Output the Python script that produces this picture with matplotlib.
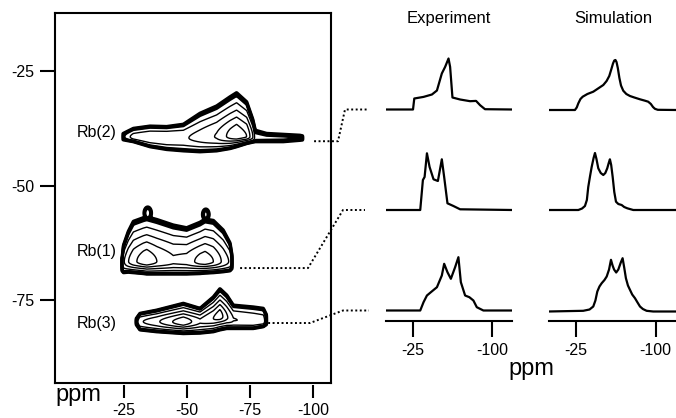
import numpy as np
import matplotlib
matplotlib.use("Agg")
import matplotlib.pyplot as plt
from matplotlib.lines import Line2D
from matplotlib.transforms import IdentityTransform

plt.rcParams['font.family'] = ['Liberation Sans', 'DejaVu Sans']
plt.rcParams['axes.unicode_minus'] = False

# ---- 2D MQMAS sites: F2 anchors, relative amplitude, ridge F1, outline top / bottom F1 (ppm)
rb2_f2 = np.array([-24.0, -24.7, -28.7, -35.3, -41.9, -48.5, -55.1, -61.7, -67.0, -69.6, -73.6, -76.0, -77.0, -81.5, -88.1, -94.7, -98.0])
rb2_amp = np.array([0.0, 0.06, 0.22, 0.3, 0.32, 0.3, 0.42, 0.58, 0.88, 1.0, 0.8, 0.35, 0.1, 0.09, 0.085, 0.075, 0.0])
rb2_ridge = np.array([-39.3, -39.3, -39.4, -39.5, -39.6, -39.6, -39.5, -39.3, -39.2, -39.2, -39.3, -39.4, -39.5, -39.6, -39.6, -39.6, -39.7])
rb2_top = np.array([-39.0, -38.6, -37.5, -37.0, -37.1, -36.6, -34.2, -32.6, -30.6, -29.7, -31.7, -35.5, -37.9, -38.6, -38.8, -39.0, -39.4])
rb2_bot = np.array([-39.6, -40.0, -40.4, -41.5, -42.1, -42.4, -42.6, -42.4, -41.9, -41.5, -40.8, -40.5, -40.4, -40.4, -40.4, -40.1, -39.9])

rb1_f2 = np.array([-24.0, -24.8, -26.7, -28.7, -32.7, -34.0, -38.0, -44.5, -49.8, -55.1, -57.1, -60.4, -64.3, -67.0, -68.0])
rb1_amp = np.array([0.0, 0.3, 0.55, 0.72, 0.95, 1.0, 0.8, 0.6, 0.65, 0.9, 0.95, 0.8, 0.5, 0.3, 0.0])
rb1_ridge = np.full(15, -66.6)
rb1_top = np.array([-67.0, -63.0, -60.0, -57.8, -57.0, -56.8, -57.4, -58.6, -59.2, -58.0, -57.3, -57.6, -59.7, -62.5, -66.0])
rb1_bot = np.array([-68.5, -69.0, -68.9, -69.0, -69.2, -69.3, -69.3, -69.3, -69.3, -69.2, -69.1, -69.0, -68.8, -68.6, -68.0])

# small islands on top of Rb(1): F2, F1, amplitude
isl_f2 = [-34.4, -57.4]
isl_f1 = [-56.0, -56.3]
isl_amp = [0.12, 0.1]

rb3_f2 = np.array([-29.5, -31.3, -37.9, -48.5, -55.1, -60.4, -63.0, -65.7, -68.3, -76.2, -80.2, -81.8])
rb3_amp = np.array([0.0, 0.3, 0.5, 1.0, 0.6, 0.8, 0.95, 0.6, 0.35, 0.3, 0.25, 0.0])
rb3_ridge = np.array([-79.7, -79.7, -79.7, -79.8, -79.6, -79.0, -78.5, -78.8, -79.3, -79.6, -79.6, -79.6])
rb3_top = np.array([-79.3, -77.9, -77.2, -75.7, -76.8, -74.3, -72.5, -73.9, -76.1, -76.5, -76.8, -78.6])
rb3_bot = np.array([-80.1, -81.5, -81.9, -82.3, -82.2, -81.9, -81.5, -81.2, -81.2, -81.2, -80.8, -80.2])

# ---- 1D F2 slices (ppm, intensity)
exp_rb2_ppm = [1.5, -25.4, -26.6, -35.3, -43.2, -47.9, -52.5, -55.6, -58.8, -60.3, -62.5, -69.7, -79.1, -84.7, -88.5, -93.1, -118.5]
exp_rb2_int = [0, 0, 11, 12.6, 15, 19, 36, 42.6, 51, 42.6, 12, 10, 8.3, 8.6, 4.3, 0.3, 0]
sim_rb2_ppm = [1.6, -24.3, -26.0, -27.5, -29.5, -31.6, -36.0, -41.5, -46.0, -50.9, -54.0, -56.5, -58.5, -60.0, -61.2, -62.3, -63.3, -64.5, -66.0, -67.5, -69.6, -72.5, -75.9, -80.0, -85.3, -90.0, -93.0, -95.5, -97.5, -99.3, -102.0, -120.0]
sim_rb2_int = [0, 0, 2.5, 6.7, 11, 13.3, 16, 18.3, 21.5, 25, 29, 34, 41, 46.5, 49.5, 50, 48, 42, 32, 24.5, 19.3, 16, 14, 12.5, 10.7, 9.3, 8.3, 6, 3, 1.2, 0.2, 0]

exp_rb1_ppm = [-0.4, -32.2, -34.7, -36.3, -38.5, -41.0, -44.7, -48.8, -52.5, -54.7, -57.8, -63.4, -69.7, -118.5]
exp_rb1_int = [0, 0, 30, 33, 56.7, 43, 30.7, 29, 50.7, 33, 6.7, 4, 0.7, 0]
sim_rb1_ppm = [1.0, -27.5, -31.0, -33.7, -35.5, -36.8, -38.5, -40.0, -41.8, -43.1, -44.5, -46.2, -48.5, -50.9, -52.8, -54.6, -56.0, -57.1, -58.3, -59.7, -61.2, -62.8, -65.0, -68.1, -70.5, -73.4, -79.0, -120.0]
sim_rb1_int = [0, 0, 1.5, 4, 10, 23, 34, 43, 52, 57, 51, 41.7, 37, 35, 37, 41.7, 47, 50.7, 45, 33, 18, 8.3, 6, 5, 3, 1.7, 0, 0]

exp_rb3_ppm = [-1.0, -32.2, -35.3, -38.5, -42.2, -47.9, -52.5, -54.7, -57.8, -61.0, -65.0, -68.1, -70.4, -74.4, -78.4, -82.2, -85.4, -91.6, -118.5]
exp_rb3_int = [0, 0, 8.3, 15, 18.3, 23.3, 35, 46.7, 38.3, 31.7, 43.3, 53.3, 28.3, 15, 13.3, 10, 3.3, 0, 0]
sim_rb3_ppm = [0.7, -32.1, -38.0, -41.5, -43.5, -45.3, -47.3, -49.4, -52.0, -54.1, -56.3, -58.1, -59.6, -61.0, -63.0, -65.0, -67.3, -69.0, -70.5, -72.1, -74.0, -75.9, -78.0, -80.6, -83.0, -85.3, -88.0, -91.5, -97.7, -120.0]
sim_rb3_int = [0, 0.7, 2, 5, 11, 20, 25, 28.3, 31.5, 35, 42, 51.7, 46, 42, 39, 42, 49, 53.3, 44, 33.3, 26, 21.7, 17, 13.3, 9, 5, 2.5, 0.7, 0, 0]

site_names = ['Rb(2)', 'Rb(1)', 'Rb(3)']
ticks_2d = [-25, -50, -75, -100]
ticks_1d = [-25, -100]
levels = [0.05, 0.06, 0.075, 0.17, 0.34, 0.56, 0.8]
level_lw = [2.4, 2.2, 2.0, 1.0, 1.0, 1.0, 1.0]


def site_field(F2, F1, f2, amp, ridge, top, bot, floor=0.05):
    o = np.argsort(f2)
    xp = f2[o]
    A = np.interp(F2, xp, amp[o], left=0, right=0)
    R = np.interp(F2, xp, ridge[o])
    T = np.interp(F2, xp, top[o])
    B = np.interp(F2, xp, bot[o])
    k = np.sqrt(2 * np.log(np.maximum(A, floor * 1.001) / floor))
    sig = np.where(F1 >= R, np.abs(T - R), np.abs(R - B)) / k
    sig = np.maximum(sig, 1e-3)
    return A * np.exp(-0.5 * ((F1 - R) / sig) ** 2)


W, H = 676, 418
fig = plt.figure(figsize=(W / 100, H / 100), dpi=100)


def rect(x0, y0, x1, y1):
    # pixel box (top-left origin) -> figure fraction
    return [x0 / W, 1 - y1 / H, (x1 - x0) / W, (y1 - y0) / H]


# ---- 2D contour panel
ax = fig.add_axes(rect(55, 13, 331, 383))
f2g = np.linspace(5, -110, 700)
f1g = np.linspace(-10, -95, 600)
F2, F1 = np.meshgrid(f2g, f1g)
fields = [
    site_field(F2, F1, rb2_f2, rb2_amp, rb2_ridge, rb2_top, rb2_bot),
    site_field(F2, F1, rb1_f2, rb1_amp, rb1_ridge, rb1_top, rb1_bot),
    site_field(F2, F1, rb3_f2, rb3_amp, rb3_ridge, rb3_top, rb3_bot),
]
for cx, cy, a in zip(isl_f2, isl_f1, isl_amp):
    fields.append(a * np.exp(-0.5 * (((F2 - cx) / 1.1) ** 2 + ((F1 - cy) / 1.0) ** 2)))
Z = np.maximum.reduce(fields)
ax.contour(F2, F1, Z, levels=levels, colors='black', linewidths=level_lw)
ax.set_xlim(2.34, -107.0)
ax.set_ylim(-93.1, -12.3)
for s in ax.spines.values():
    s.set_linewidth(1.5)
ax.set_yticks([-25, -50, -75])
ax.set_yticklabels(['-25', '-50', '-75'], fontsize=11.5)
ax.tick_params(axis='y', length=11, width=1.5, pad=4, direction='out')
ax.tick_params(axis='x', bottom=False, labelbottom=False)

sec = ax.secondary_xaxis(-0.006)
sec.spines['bottom'].set_visible(False)
sec.set_xticks(ticks_2d)
sec.set_xticklabels([str(t) for t in ticks_2d], fontsize=11.5)
sec.tick_params(axis='x', length=9.5, width=1.5, pad=3)

label_y = [-38.5, -64.3, -80.0]
for name, y in zip(site_names, label_y):
    ax.text(-22.2, y, name, ha='right', va='center', fontsize=11.5)

fig.text(55 / W, 1 - 401 / H, 'ppm', fontsize=17, ha='left', va='baseline')

# ---- 1D slices: Experiment and Simulation
exp_sets = [(exp_rb2_ppm, exp_rb2_int), (exp_rb1_ppm, exp_rb1_int), (exp_rb3_ppm, exp_rb3_int)]
sim_sets = [(sim_rb2_ppm, sim_rb2_int), (sim_rb1_ppm, sim_rb1_int), (sim_rb3_ppm, sim_rb3_int)]
exp_off = [211.5, 111, 10.5]
sim_off = [211, 111, 9.5]

ax_exp = fig.add_axes(rect(386, 40, 512, 321))
ax_sim = fig.add_axes(rect(549, 40, 677, 321))
for a, sets, offs, title, xr in [(ax_exp, exp_sets, exp_off, 'Experiment', -118.5),
                                 (ax_sim, sim_sets, sim_off, 'Simulation', -120.0)]:
    for (p, v), off in zip(sets, offs):
        a.plot(p, np.array(v) + off, color='black', lw=1.6, solid_joinstyle='round')
    a.set_xlim(0, xr)
    a.set_ylim(0, 281)
    for side in ['left', 'right', 'top']:
        a.spines[side].set_visible(False)
    a.spines['bottom'].set_linewidth(1.5)
    a.set_yticks([])
    a.set_xticks(ticks_1d)
    a.set_xticklabels([str(t) for t in ticks_1d], fontsize=11.5)
    a.tick_params(axis='x', length=11.5, width=1.5, pad=4)
    a.set_title(title, fontsize=12, pad=12)
    a.patch.set_visible(False)

fig.text(531 / W, 1 - 375 / H, 'ppm', fontsize=17, ha='center', va='baseline')

# ---- dotted connectors from contour to slice
links = [(-100.3, -40.3, 338, 345, exp_off[0], 367),
         (-71.0, -68.0, 308, 343, exp_off[1], 365),
         (-82.1, -80.0, 310, 343, exp_off[2], 369)]
for f2s, f1s, k1, k2, off, xe in links:
    x0, y0 = ax.transData.transform((f2s, f1s))
    _, y3 = ax_exp.transData.transform((0, off))
    fig.add_artist(Line2D([x0, k1, k2, xe], [y0, y0, y3, y3],
                          transform=IdentityTransform(), color='black',
                          lw=1.4, linestyle=(0, (1, 1.3))))

fig.savefig('out.png', dpi=100)
